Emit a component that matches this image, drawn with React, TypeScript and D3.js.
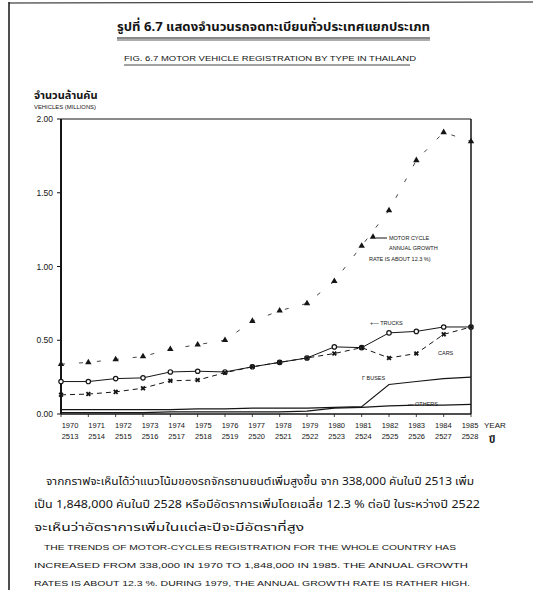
import React from "react";
import * as d3 from "d3";

const years = [1970, 1971, 1972, 1973, 1974, 1975, 1976, 1977, 1978, 1979, 1980, 1981, 1982, 1983, 1984, 1985];
const thaiYears = ["2513", "2514", "2515", "2516", "2517", "2518", "2519", "2520", "2521", "2522", "2523", "2524", "2525", "2526", "2527", "2528"];
const motorcycles = [0.338, 0.35, 0.37, 0.39, 0.44, 0.47, 0.5, 0.63, 0.7, 0.75, 0.9, 1.14, 1.38, 1.72, 1.91, 1.848];
const trucks = [0.22, 0.22, 0.24, 0.245, 0.285, 0.29, 0.285, 0.32, 0.35, 0.38, 0.455, 0.45, 0.55, 0.56, 0.59, 0.59];
const cars = [0.13, 0.135, 0.15, 0.175, 0.225, 0.23, 0.28, 0.32, 0.35, 0.38, 0.41, 0.45, 0.38, 0.41, 0.54, 0.59];
const buses = [0.03, 0.03, 0.03, 0.03, 0.03, 0.035, 0.035, 0.04, 0.04, 0.04, 0.045, 0.05, 0.2, 0.22, 0.24, 0.25];
const others = [0.01, 0.01, 0.01, 0.01, 0.015, 0.015, 0.015, 0.015, 0.015, 0.02, 0.04, 0.045, 0.055, 0.06, 0.06, 0.065];
const yTicks = [0, 0.5, 1.0, 1.5, 2.0];

const thaiTitle = "รูปที่ 6.7  แสดงจำนวนรถจดทะเบียนทั่วประเทศแยกประเภท";
const engTitle = "FIG. 6.7  MOTOR VEHICLE REGISTRATION BY TYPE IN THAILAND";
const thaiPara = [
  "จากกราฟจะเห็นได้ว่าแนวโน้มของรถจักรยานยนต์เพิ่มสูงขึ้น จาก 338,000 คันในปี 2513 เพิ่ม",
  "เป็น 1,848,000 คันในปี 2528 หรือมีอัตราการเพิ่มโดยเฉลี่ย 12.3 % ต่อปี ในระหว่างปี 2522",
  "จะเห็นว่าอัตราการเพิ่มในแต่ละปีจะมีอัตราที่สูง",
];
const engPara = [
  "THE TRENDS OF MOTOR-CYCLES REGISTRATION FOR THE WHOLE COUNTRY HAS",
  "INCREASED FROM 338,000 IN 1970 TO 1,848,000 IN 1985.  THE ANNUAL GROWTH",
  "RATES IS ABOUT 12.3 %. DURING 1979, THE ANNUAL GROWTH RATE IS RATHER HIGH.",
];

const INK = "#151515";
const FONT = "'Liberation Sans', 'DejaVu Sans', sans-serif";
const THAI = "'Noto Sans Thai', 'Noto Sans', 'DejaVu Sans', sans-serif";

export default function App() {
  const W = 533, H = 590;
  const x = d3.scaleLinear().domain([1970, 1985]).range([61, 471]);
  const xl = d3.scaleLinear().domain([1970, 1985]).range([70, 470]);
  const y = d3.scaleLinear().domain([0, 2]).range([414, 119]);
  const line = (vals: number[]) =>
    d3.line<number>().x((_, i) => x(years[i])).y((v) => y(v))(vals) || "";
  const tri = d3.symbol().type(d3.symbolTriangle).size(18)() || "";
  const cross = d3.symbol().type(d3.symbolCross).size(16)() || "";

  return (
    <svg width={W} height={H} style={{ position: "absolute", left: 0, top: 0, background: "#fff" }}>
      {/* page border */}
      <line x1={9} y1={2} x2={9} y2={590} stroke={INK} strokeWidth={1.5} />
      <line x1={9} y1={3} x2={533} y2={2} stroke={INK} strokeWidth={1} />

      {/* titles */}
      <text x={117} y={31} fontFamily={THAI} fontSize={13} fontWeight="bold" fill={INK} textLength={313} lengthAdjust="spacingAndGlyphs">{thaiTitle}</text>
      <line x1={117} y1={38} x2={430} y2={38} stroke={INK} strokeWidth={1.2} />
      <line x1={117} y1={40} x2={430} y2={40} stroke={INK} strokeWidth={0.7} />
      <text x={124} y={61} fontFamily={FONT} fontSize={7.5} fill={INK} textLength={292} lengthAdjust="spacingAndGlyphs">{engTitle}</text>
      <line x1={124} y1={65} x2={410} y2={65} stroke={INK} strokeWidth={0.8} />

      {/* y axis titles */}
      <text x={34} y={99} fontFamily={THAI} fontSize={11} fontWeight="bold" fill={INK}>จำนวนล้านคัน</text>
      <text x={34} y={109} fontFamily={FONT} fontSize={5} fill={INK} textLength={62} lengthAdjust="spacingAndGlyphs">VEHICLES (MILLIONS)</text>

      {/* frame */}
      <line x1={61} y1={119} x2={471} y2={119} stroke={INK} strokeWidth={1} />
      <line x1={471} y1={119} x2={471} y2={414} stroke={INK} strokeWidth={1.5} />
      <line x1={61} y1={414} x2={471} y2={414} stroke={INK} strokeWidth={1.5} />
      <line x1={61} y1={119} x2={61} y2={414} stroke={INK} strokeWidth={2} />

      {/* y ticks */}
      {yTicks.map((t) => (
        <g key={t}>
          <line x1={57} x2={61} y1={y(t)} y2={y(t)} stroke={INK} strokeWidth={1} />
          <text x={53} y={y(t) + 3} textAnchor="end" fontFamily={FONT} fontSize={8.5} fill={INK}>
            {t.toFixed(2)}
          </text>
        </g>
      ))}

      {/* x labels */}
      {years.map((yr, i) => (
        <g key={yr}>
          <line x1={x(yr)} x2={x(yr)} y1={414} y2={417} stroke={INK} strokeWidth={0.8} />
          <text x={xl(yr)} y={428} textAnchor="middle" fontFamily={FONT} fontSize={7.5} fill={INK}>{yr}</text>
          <text x={xl(yr)} y={439} textAnchor="middle" fontFamily={FONT} fontSize={7.5} fill={INK}>{thaiYears[i]}</text>
        </g>
      ))}
      <text x={484} y={428} fontFamily={FONT} fontSize={8} fill={INK}>YEAR</text>
      <text x={489} y={443} fontFamily={THAI} fontSize={10} fontWeight="bold" fill={INK}>ปี</text>

      {/* series */}
      <path d={line(others)} fill="none" stroke={INK} strokeWidth={1.3} />
      <path d={line(buses)} fill="none" stroke={INK} strokeWidth={1.1} />
      <path d={line(cars)} fill="none" stroke={INK} strokeWidth={1} strokeDasharray="5,4" />
      <path d={line(trucks)} fill="none" stroke={INK} strokeWidth={1} />
      <path d={line(motorcycles)} fill="none" stroke={INK} strokeWidth={0.8} strokeDasharray="4,14" />

      {trucks.map((v, i) => (
        <circle key={"t" + i} cx={x(years[i])} cy={y(v)} r={2.2} fill="#fff" stroke={INK} strokeWidth={1.2} />
      ))}
      {cars.map((v, i) => (
        <path key={"c" + i} d={cross} transform={`translate(${x(years[i])},${y(v)}) rotate(45)`} fill={INK} />
      ))}
      {motorcycles.map((v, i) => (
        <path key={"m" + i} d={tri} transform={`translate(${x(years[i])},${y(v)})`} fill={INK} />
      ))}

      {/* in-plot labels */}
      <path d={tri} transform="translate(373,237)" fill={INK} />
      <line x1={376} x2={387} y1={238} y2={238} stroke={INK} strokeWidth={1} />
      <text x={389} y={240} fontFamily={FONT} fontSize={5.5} fill={INK}>MOTOR CYCLE</text>
      <text x={389} y={250} fontFamily={FONT} fontSize={5.5} fill={INK}>ANNUAL GROWTH</text>
      <text x={369} y={261} fontFamily={FONT} fontSize={5.5} fill={INK}>RATE IS ABOUT 12.3 %)</text>

      <text x={370} y={325} fontFamily={FONT} fontSize={5.5} fill={INK}>+— TRUCKS</text>
      <text x={438} y={355} fontFamily={FONT} fontSize={5.5} fill={INK}>CARS</text>
      <text x={362} y={380} fontFamily={FONT} fontSize={5.5} fill={INK}>Γ BUSES</text>
      <text x={408} y={406} fontFamily={FONT} fontSize={5.5} fill={INK}>— OTHERS</text>

      {/* paragraphs */}
      <text x={46} y={485} fontFamily={THAI} fontSize={11} fill={INK} textLength={428} lengthAdjust="spacingAndGlyphs">{thaiPara[0]}</text>
      <text x={34} y={508} fontFamily={THAI} fontSize={11} fill={INK} textLength={446} lengthAdjust="spacingAndGlyphs">{thaiPara[1]}</text>
      <text x={34} y={531} fontFamily={THAI} fontSize={11} fill={INK} textLength={270} lengthAdjust="spacingAndGlyphs">{thaiPara[2]}</text>

      <text x={44} y={550} fontFamily={FONT} fontSize={7.5} fill={INK} textLength={412} lengthAdjust="spacingAndGlyphs">{engPara[0]}</text>
      <text x={34} y={568} fontFamily={FONT} fontSize={7.5} fill={INK} textLength={434} lengthAdjust="spacingAndGlyphs">{engPara[1]}</text>
      <text x={34} y={586} fontFamily={FONT} fontSize={7.5} fill={INK} textLength={436} lengthAdjust="spacingAndGlyphs">{engPara[2]}</text>
    </svg>
  );
}
